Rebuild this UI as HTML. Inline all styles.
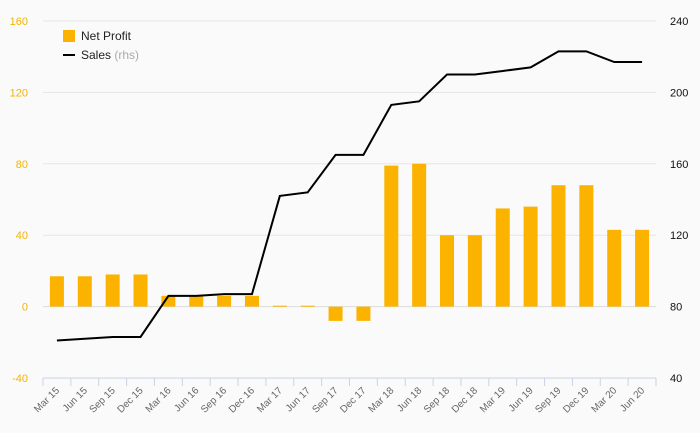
<!DOCTYPE html>
<html><head><meta charset="utf-8"><style>
body{margin:0;background:#fafafa;font-family:"Liberation Sans",sans-serif}
svg{display:block}
</style></head><body>
<svg id="c" width="700" height="433" xmlns="http://www.w3.org/2000/svg">
<rect width="700" height="433" fill="#fafafa"/>
</svg>
<script>
const categories=["Mar 15","Jun 15","Sep 15","Dec 15","Mar 16","Jun 16","Sep 16","Dec 16","Mar 17","Jun 17","Sep 17","Dec 17","Mar 18","Jun 18","Sep 18","Dec 18","Mar 19","Jun 19","Sep 19","Dec 19","Mar 20","Jun 20"];
const netProfit=[17,17,18,18,6,6,6,6,0.5,0.5,-8,-8,79,80,40,40,55,56,68,68,43,43];
const sales=[61,62,63,63,86,86,87,87,142,144,165,165,193,195,210,210,212,214,223,223,217,217];
const leftTicks=[-40,0,40,80,120,160];
const rightTicks=[40,80,120,160,200,240];
const svg=document.getElementById('c');
const NS='http://www.w3.org/2000/svg';
const X0=43,X1=656,YT=21,YB=378;
const bw=(X1-X0)/categories.length;
const xc=i=>X0+bw*(i+0.5);
const yL=v=>YB-(v+40)/200*(YB-YT);
const yR=v=>YB-(v-40)/200*(YB-YT);
function el(t,a,p){const e=document.createElementNS(NS,t);for(const k in a)e.setAttribute(k,a[k]);(p||svg).appendChild(e);return e;}
leftTicks.forEach((v,i)=>{
 const g=el('line',{x1:X0,x2:X1,y1:yL(v),y2:yL(v),stroke:v===0?'#ddd':'#e6e6e6','stroke-width':1});
 
 
 const t=el('text',{x:28,y:yL(v)+4,'text-anchor':'end','font-size':11,fill:'#f5b400'});
 t.textContent=v;
 
 
});
rightTicks.forEach(v=>{
 const t=el('text',{x:670,y:yR(v)+4,'font-size':11,fill:'#111'});
 t.textContent=v;
 
 
});
const ax=el('line',{x1:X0,x2:X1,y1:YB,y2:YB,stroke:'#c8d4e6','stroke-width':1});


for(let i=0;i<=categories.length;i++){
 const tk=el('line',{x1:X0+bw*i,x2:X0+bw*i,y1:YB,y2:YB+8,stroke:'#c8d4e6'});
 
 
}
categories.forEach((c,i)=>{
 const x=xc(i)+3,y=YB+13;
 const t=el('text',{x:x,y:y,'text-anchor':'end','font-size':10,fill:'#666',transform:`rotate(-45 ${x} ${y})`});
 t.textContent=c;
 
 
});
netProfit.forEach((v,i)=>{
 const y0=yL(0),y1=yL(v);
 const r=el('rect',{x:xc(i)-7,y:Math.min(y0,y1),width:14,height:Math.max(Math.abs(y1-y0),1),fill:'#fbb300'});
 
 
});
const pl=el('polyline',{points:sales.map((v,i)=>xc(i)+','+yR(v)).join(' '),fill:'none',stroke:'#000','stroke-width':2});


const lg=el('g',{});


const lr=el('rect',{x:63,y:30,width:12,height:12,fill:'#fbb300'},lg);


const lt=el('text',{x:81,y:40,'font-size':12,fill:'#222'},lg);
lt.textContent='Net Profit';


const ll=el('line',{x1:63,x2:75,y1:55,y2:55,stroke:'#000','stroke-width':2},lg);


const lt2=el('text',{x:81,y:59,'font-size':12,fill:'#222'},lg);
lt2.innerHTML='Sales <tspan fill="#aaa">(rhs)</tspan>';


</script>
</body></html>
